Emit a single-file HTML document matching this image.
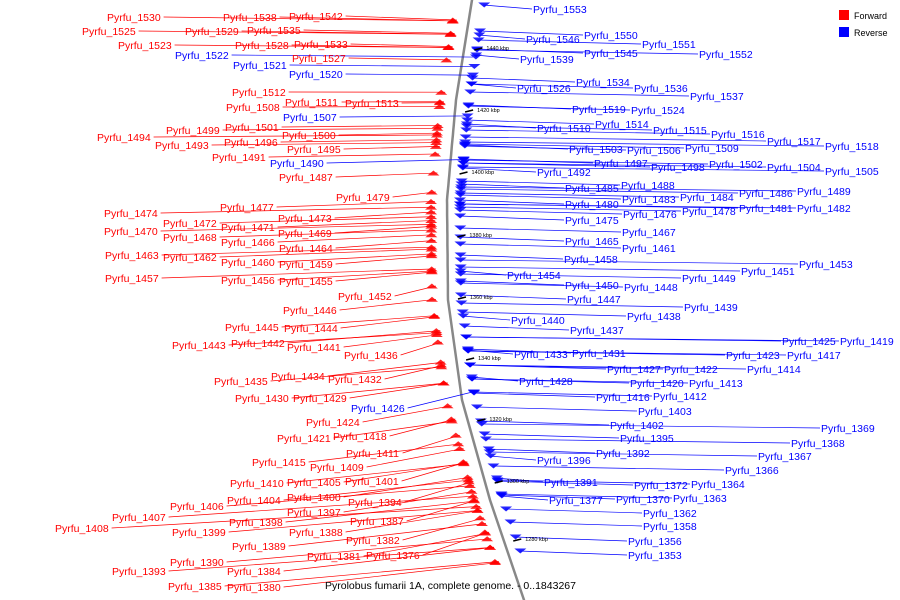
<!DOCTYPE html>
<html><head><meta charset="utf-8"><style>
html,body{margin:0;padding:0;background:#fff}
svg{display:block}
text{font-family:"Liberation Sans",sans-serif}
</style></head><body>
<svg id="chart" width="900" height="600" viewBox="0 0 900 600" xmlns="http://www.w3.org/2000/svg">
<path id="backbone" fill="none" stroke="#888" stroke-width="2.5"/>
<g id="links"></g><g id="arrows"></g><g id="ticks"></g><g id="labels"></g>
<g>
<rect x="839" y="10" width="10" height="10" fill="#f00"/>
<text x="854" y="19" font-size="9">Forward</text>
<rect x="839" y="27" width="10" height="10" fill="#00f"/>
<text x="854" y="36" font-size="9">Reverse</text>
</g>
<text x="325" y="589" font-size="10.5">Pyrolobus fumarii 1A, complete genome. - 0..1843267</text>
</svg>
<script>
const leftNames=["1530","1538","1542","1525","1529","1535","1523","1528","1533","1522","1527","1521","1520","1512","1511","1513","1508","1507","1501","1499","1500","1494","1496","1493","1495","1491","1490","1487","1479","1477","1474","1473","1472","1471","1470","1469","1468","1466","1464","1463","1462","1460","1459","1457","1456","1455","1452","1446","1445","1444","1442","1443","1441","1436","1434","1432","1435","1430","1429","1426","1424","1418","1421","1411","1415","1409","1401","1405","1410","1400","1404","1394","1406","1397","1407","1387","1398","1408","1399","1388","1382","1389","1376","1381","1390","1393","1384","1385","1380"];
const leftX=[107,223,289,82,185,247,118,235,294,175,292,233,289,232,285,345,226,283,225,166,282,97,224,155,287,212,270,279,336,220,104,278,163,221,104,278,163,221,279,105,163,221,279,105,221,279,338,283,225,284,231,172,287,344,271,328,214,235,293,351,306,333,277,346,252,310,345,287,230,287,227,348,170,287,112,350,229,55,172,289,346,232,366,307,170,112,227,168,227];
const leftY=[17,17,16,31,31,30,45,45,44,55,58,65,74,92,102,103,107,117,127,130,135,137,142,145,149,157,163,177,197,207,213,218,223,227,231,233,237,242,248,255,257,262,264,278,280,281,296,310,327,328,343,345,347,355,376,379,381,398,398,408,422,436,438,453,462,467,481,482,483,497,500,502,506,512,517,521,522,528,532,532,540,546,555,556,562,571,571,586,587];
const leftStrand="FFFFFFFFFRFRRFFFFRFFFFFFFFRFFFFFFFFFFFFFFFFFFFFFFFFFFFFFFFFRFFFFFFFFFFFFFFFFFFFFFFFFFFFFFF";
const rightNames=["1553","1550","1546","1551","1545","1552","1539","1534","1526","1536","1537","1519","1524","1514","1510","1515","1516","1517","1518","1509","1503","1506","1497","1502","1498","1504","1505","1492","1488","1485","1489","1486","1484","1483","1480","1481","1482","1478","1476","1475","1467","1465","1461","1458","1453","1451","1454","1449","1450","1448","1447","1439","1438","1440","1437","1425","1419","1431","1433","1417","1423","1427","1422","1414","1428","1420","1413","1412","1416","1403","1402","1369","1395","1368","1392","1367","1396","1366","1391","1364","1372","1363","1370","1377","1362","1358","1356","1353"];
const rightX=[533,584,526,642,584,699,520,576,517,634,690,572,631,595,537,653,711,767,825,685,569,627,594,709,651,767,825,537,621,565,797,739,680,622,565,739,797,682,623,565,622,565,622,564,799,741,507,682,565,624,567,684,627,511,570,782,840,572,514,787,726,607,664,747,519,630,689,653,596,638,610,821,620,791,596,758,537,725,544,691,634,673,616,549,643,643,628,628];
const rightY=[9,35,39,44,53,54,59,82,88,88,96,109,110,124,128,130,134,141,146,148,149,150,163,164,167,167,171,172,185,188,191,193,197,199,204,208,208,211,214,220,232,241,248,259,264,271,275,278,285,287,299,307,316,320,330,341,341,353,354,355,355,369,369,369,381,383,383,396,397,411,425,428,438,443,453,456,460,470,482,484,485,498,499,500,513,526,541,555];
const tickKbp=[1440,1420,1400,1380,1360,1340,1320,1300,1280];
const tickY=[48,110,172,235,297,358,419,481,539];

const NS="http://www.w3.org/2000/svg";
const cy=[0,100,200,300,400,500,600], cx=[472,456,447,448,462,490,524];
function curveX(y){y=Math.max(0,Math.min(600,y));const i=Math.min(5,Math.floor(y/100));const t=(y-cy[i])/100;return cx[i]+(cx[i+1]-cx[i])*t;}
function mk(tag,attrs,parent){const e=document.createElementNS(NS,tag);for(const k in attrs)e.setAttribute(k,attrs[k]);parent.appendChild(e);return e;}
let d="";for(let y=-5;y<=605;y+=5)d+=(y<0?"M":"L")+curveX(y).toFixed(1)+","+y+" ";
document.getElementById("backbone").setAttribute("d",d);
const gL=document.getElementById("links"),gA=document.getElementById("arrows"),gT=document.getElementById("ticks"),gX=document.getElementById("labels");
function drawSide(names,xs,ys,strands,side){
  const n=names.length;
  for(let i=0;i<n;i++){
    const rev=strands[i]==="R";
    const col=rev?"#00f":"#f00";
    let fy=side<0?20+(ys[i]-16)*0.95:ys[i]-4;
    fy=Math.max(4,Math.min(592,fy));
    const bx=curveX(fy);
    const tw=names[i].length*5.9+32;
    const lx=side<0?xs[i]+tw+1:xs[i]-1;
    const ex=side<0?(rev?bx+10:bx-12):bx+12;
    const ln=mk("line",{x1:lx,y1:ys[i],x2:ex,y2:fy,stroke:col,"stroke-width":0.7},gL);
    
    
    const ax=rev?bx+7:bx-22;
    const tri=rev?`${ax},${fy-2.5} ${ax+12},${fy-2.5} ${ax+6},${fy+2.5}`:`${ax},${fy+2.5} ${ax+12},${fy+2.5} ${ax+6},${fy-2.5}`;
    const ar=mk("polygon",{points:tri,fill:col,opacity:0.85},gA);
    
    
    const t=mk("text",{x:xs[i],y:ys[i]+4,fill:col,"font-size":10.5},gX);
    t.textContent="Pyrfu_"+names[i];
    
    
  }
}
drawSide(leftNames,leftX,leftY,leftStrand,-1);
drawSide(rightNames,rightX,rightY,"R".repeat(rightNames.length),1);
for(let i=0;i<tickKbp.length;i++){
  const x=curveX(tickY[i]);
  const tk=mk("line",{x1:x+10,y1:tickY[i]+2,x2:x+18,y2:tickY[i],stroke:"#000","stroke-width":1.5},gT);
  
  
  const tl=mk("text",{x:x+22,y:tickY[i]+2,"font-size":5.5,fill:"#000"},gT);
  tl.textContent=tickKbp[i]+" kbp";
  
  
}
</script>
</body></html>
